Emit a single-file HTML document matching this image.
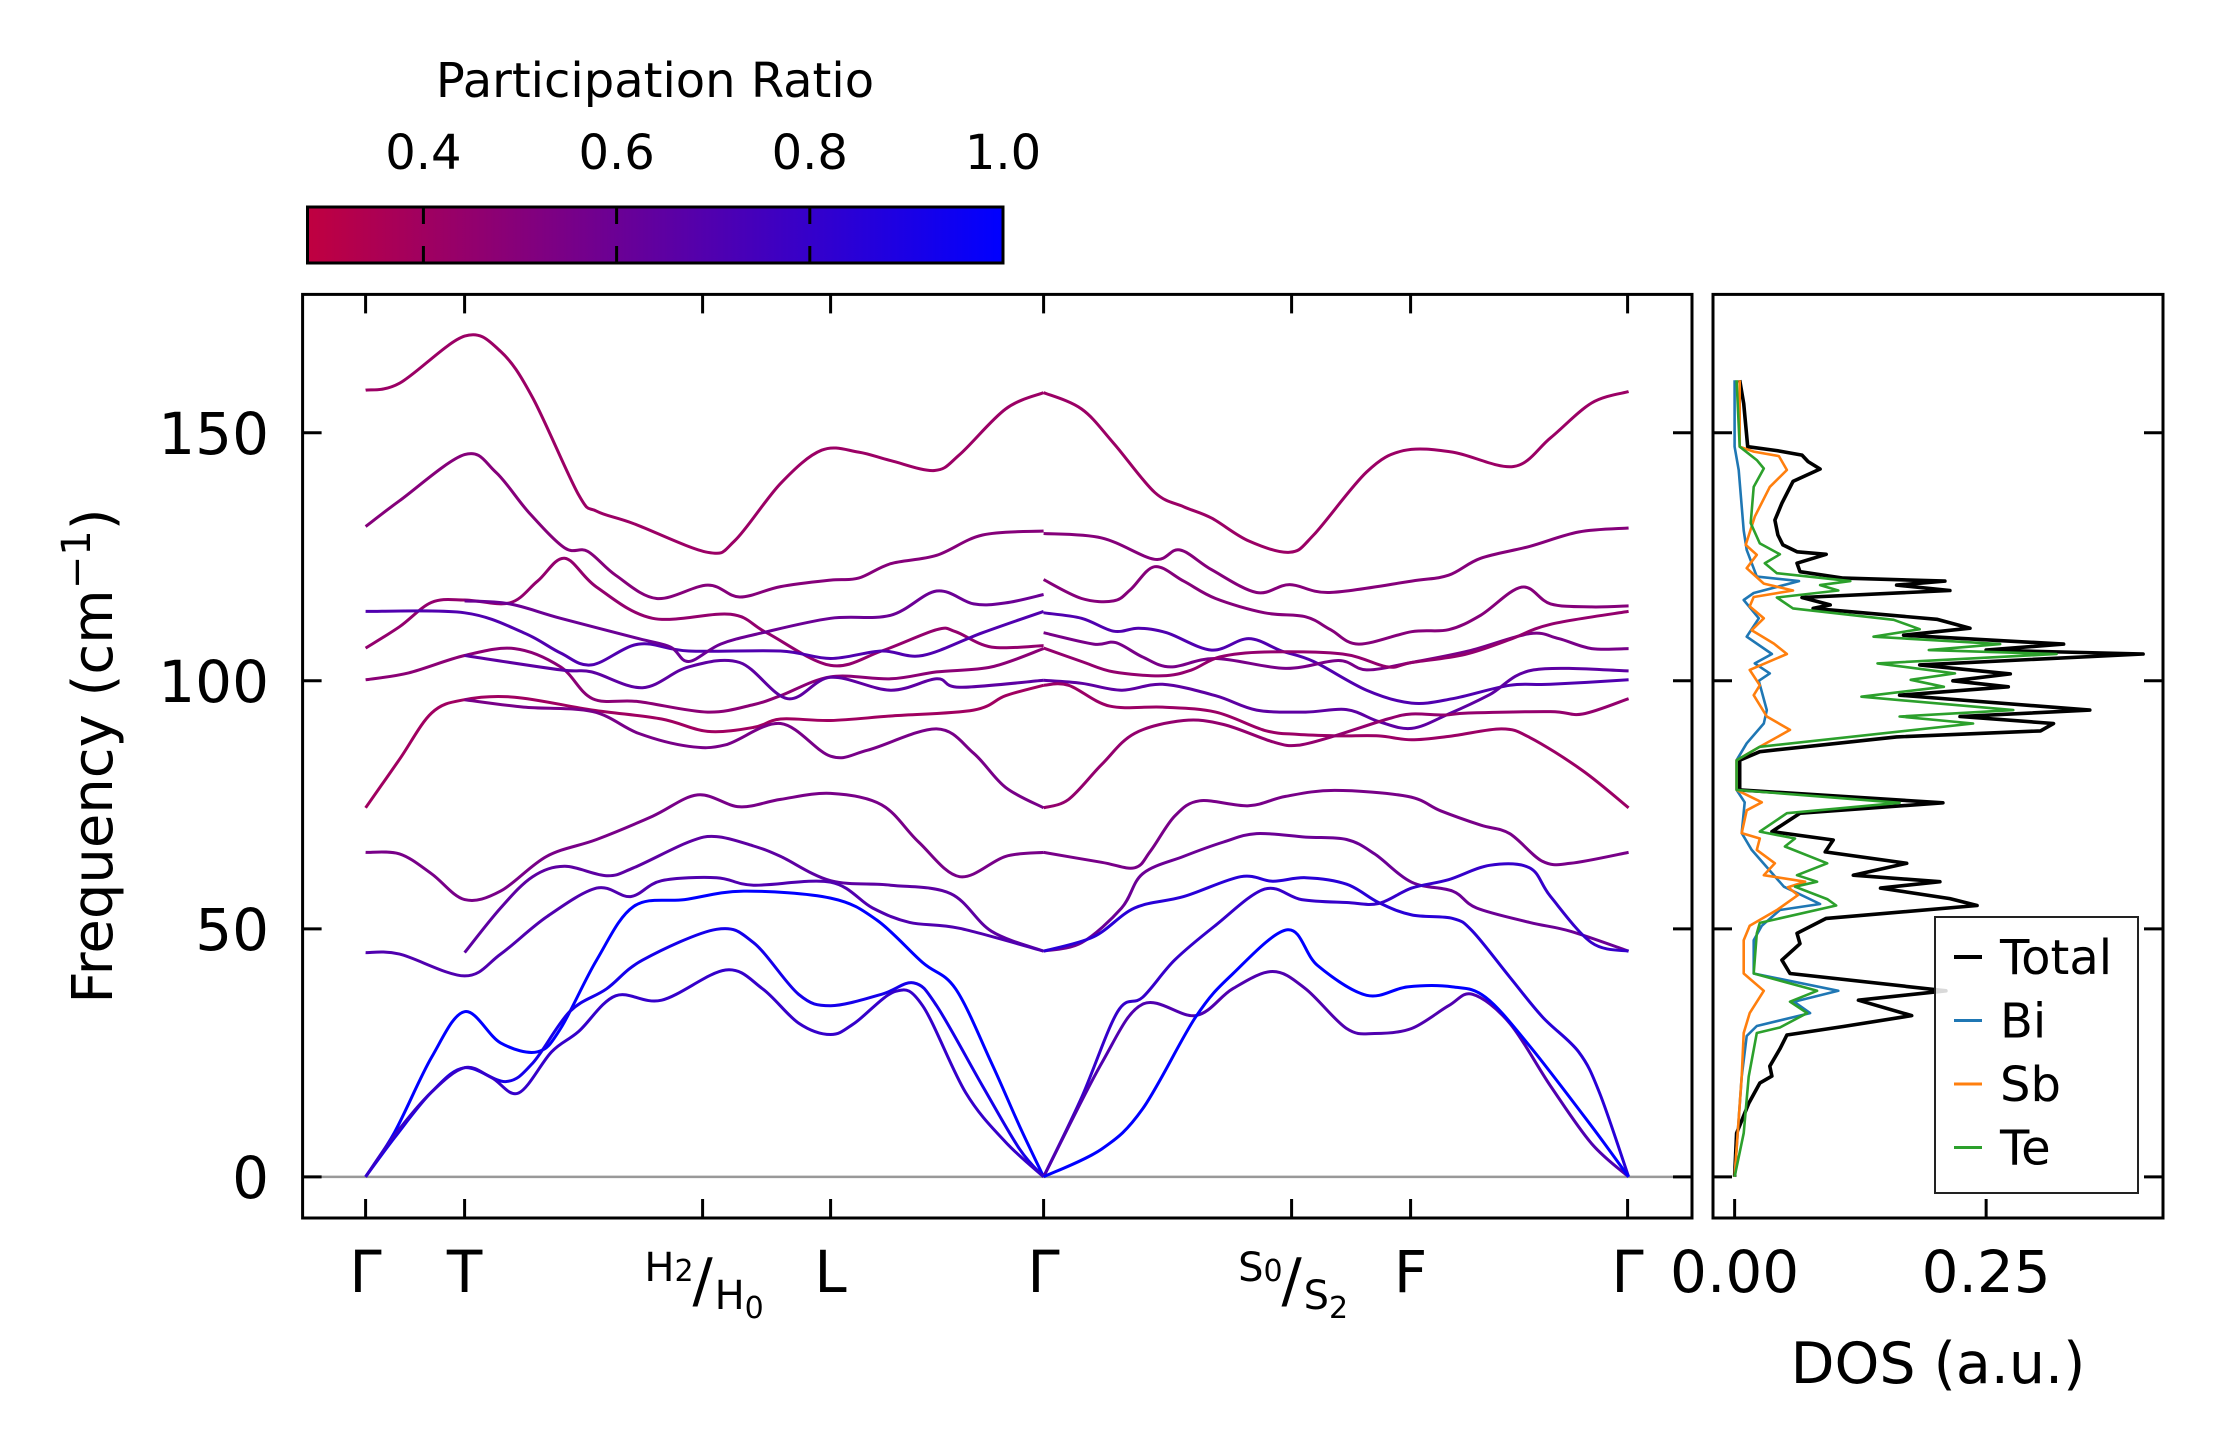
<!DOCTYPE html>
<html><head><meta charset="utf-8"><style>
html,body{margin:0;padding:0;background:#fff;}
svg{display:block;font-family:"DejaVu Sans","Liberation Sans",sans-serif;}
</style></head><body>
<svg id="chart" width="2222" height="1455" viewBox="0 0 2222 1455" xmlns="http://www.w3.org/2000/svg">
<defs><linearGradient id="cmap" x1="0" x2="1" y1="0" y2="0"><stop offset="0" stop-color="rgb(192,0,64)"/><stop offset="1" stop-color="rgb(0,0,255)"/></linearGradient></defs>
<g id="colorbar">
<text x="655" y="97" font-size="48" text-anchor="middle">Participation Ratio</text>
<rect x="307.5" y="207" width="695.5" height="56" fill="url(#cmap)" stroke="#000" stroke-width="3"/>
</g>
<g id="bands"></g>
<g id="dos"></g>
<g id="axes"></g>
</svg>
<script>
// ---------- data ----------
const kTicks=[0,99,337,465,678,926,1045,1262];
const kTickLabels=["Γ","T","H","L","Γ","S","F","Γ"];
const yTicks=[0,50,100,150];
const cbTicks=[0.4,0.6,0.8,1.0];
const dosTicks=[0,0.25];
const dosTickLabels=["0.00","0.25"];
const bandPR=[0.42,0.42,0.5,0.5,0.45,0.7,0.6,0.48,0.65,0.4,0.55,0.55,0.65,0.7,1.0,0.92,0.8,
 0.5,0.7,0.55,0.45,0.65,0.42,0.45,0.55,0.6,0.85,0.8,0.7,1.0];
const bandPoints=[
[[0,158.6],[34,160],[99,169.5],[135,166.4],[167,157.1],[213,137.5],[231,134.2],[268,131.7],[342,125.9],[369,128.2],[415,139.8],[456,146.5],[493,146.1],[525,144.4],[569,142.4],[594,145.6],[640,154.8],[678,158.1]],
[[678,158.1],[716,154.8],[748,147.9],[789,138],[818,135.1],[846,132.8],[883,128.2],[924,125.9],[948,129.4],[1001,142.1],[1038,146.4],[1087,146.1],[1148,143.2],[1185,149],[1226,156],[1263,158.3]],
[[0,131.1],[34,136.3],[99,145.6],[130,142.1],[163,134],[199,126.8],[222,126.1],[250,121.3],[291,116.6],[342,119.3],[374,116.9],[415,119],[465,120.3],[493,120.7],[525,123.6],[571,125.3],[617,129.4],[678,130.2]],
[[678,129.7],[736,128.8],[789,124.5],[814,126.4],[846,122.4],[891,117.8],[924,119.4],[964,117.8],[1046,120.1],[1083,121.3],[1115,124.7],[1164,127.1],[1213,130],[1263,130.8]],
[[0,106.6],[34,110.9],[66,115.8],[99,116.3],[144,115.7],[172,120.1],[199,124.7],[231,118.9],[287,112.6],[365,113.4],[401,109.7],[465,103.1],[516,106],[571,110.3],[590,109.9],[626,106.8],[678,107.1]],
[[0,114],[99,113.7],[158,109.7],[195,105.6],[226,103.2],[273,107.4],[323,106],[415,106],[465,104.5],[516,106],[557,105.1],[617,109.7],[678,114]],
[[99,116.1],[144,115.5],[195,112.6],[273,108.5],[305,106.8],[323,103.9],[355,107.4],[397,109.7],[465,112.6],[525,113.2],[571,118.1],[608,115.5],[640,115.7],[678,117.4]],
[[0,100.2],[43,101.6],[99,105.1],[149,106.5],[195,102.8],[227,96.4],[273,95.8],[342,93.7],[388,95.2],[415,97],[465,100.8],[525,100.4],[571,101.8],[626,102.8],[678,106.5]],
[[99,105.1],[195,102.2],[226,101.8],[277,98.6],[323,102.8],[374,103.7],[422,96.4],[465,100.7],[525,98.1],[571,100.4],[594,98.7],[678,100.1]],
[[0,74.4],[34,84.2],[66,93.5],[99,96.2],[149,96.7],[227,94.1],[296,92.3],[342,89.8],[388,90.6],[415,92.3],[465,92],[525,92.9],[608,94.1],[640,97],[678,99.1]],
[[99,96.2],[158,94.7],[227,93.8],[273,89.4],[323,86.8],[360,87.1],[415,91.4],[465,84.8],[502,86],[571,90.3],[608,85.4],[640,78.5],[678,74.4]],
[[0,65.4],[34,65.1],[66,61.1],[99,55.9],[135,57.6],[181,64.6],[231,68],[287,72.7],[332,77],[374,74.6],[415,76.1],[465,77.3],[516,75],[553,67.5],[594,60.5],[640,64.6],[678,65.4]],
[[99,45.2],[135,54.2],[167,60.5],[199,62.6],[241,60.7],[268,62.3],[323,67.5],[351,68.6],[388,66.7],[415,64.6],[465,59.7],[525,58.8],[585,57.1],[626,49.5],[678,45.5]],
[[0,45.2],[34,44.9],[99,40.5],[135,44.9],[181,52.4],[231,58.2],[265,56.5],[296,59.7],[351,60.3],[388,58.8],[465,59.4],[507,54.2],[544,51.3],[594,50.1],[678,45.5]],
[[0,0],[29,9],[66,24.1],[99,33.3],[135,27],[172,25.2],[195,29.9],[231,43.7],[268,54.5],[319,55.9],[378,57.6],[465,56.2],[511,51.8],[557,43.2],[590,37.9],[626,22.9],[654,10.2],[678,0]],
[[0,0],[29,7.9],[66,17.1],[99,22],[140,19.2],[167,22.9],[204,33.3],[241,37.9],[277,43.7],[351,49.9],[388,47.2],[433,36.8],[465,34.5],[516,36.8],[548,39.1],[571,34.5],[617,18.3],[654,5.6],[678,0]],
[[0,0],[29,8.4],[66,17.1],[99,22],[126,20],[153,16.9],[186,25.2],[213,29.3],[250,36.5],[296,35.6],[360,41.7],[397,37.9],[433,31],[465,28.7],[489,31],[530,37.4],[557,34.5],[600,17],[640,7],[678,0]],
[[678,120.4],[716,116.6],[748,116.1],[765,118.4],[789,123],[818,120.1],[850,116.6],[899,113.7],[940,112.9],[965,110.3],[993,107.4],[1046,109.9],[1083,110.3],[1115,113.2],[1156,118.9],[1185,115.5],[1226,114.9],[1263,115.1]],
[[678,113.7],[716,112.6],[748,110],[773,110.6],[801,109.7],[846,106.2],[883,108.5],[916,106],[948,103.9],[1001,98.1],[1046,95.5],[1087,96.4],[1144,99.1],[1185,99.3],[1263,100.2]],
[[678,109.7],[728,107.4],[750,107.7],[777,104.8],[805,102.8],[850,104.5],[920,102.5],[973,104.1],[1001,102.2],[1046,103.7],[1103,106],[1164,109.5],[1193,108.5],[1226,106.5],[1263,106.5]],
[[678,106.6],[716,103.9],[748,101.8],[797,101],[826,102.2],[854,104.8],[899,105.8],[977,105.4],[1022,102.8],[1046,103.7],[1099,105.3],[1144,108.3],[1185,111.4],[1263,114]],
[[678,100.1],[716,99.5],[756,98.1],[797,99.3],[850,97],[891,94.1],[940,93.7],[981,94.2],[1013,91.8],[1046,90.4],[1083,93.3],[1124,97.2],[1168,102.2],[1263,102]],
[[678,99.1],[703,99.1],[744,94.9],[797,94.7],[850,93.7],[899,90],[932,89.2],[973,88.9],[1013,88.9],[1046,88.1],[1087,88.9],[1136,90.3],[1164,88.6],[1217,81.9],[1263,74.4]],
[[678,74.4],[703,76.1],[736,83.1],[769,89.4],[818,92],[858,91.2],[907,87.7],[932,87],[969,88.9],[1022,92.3],[1046,93.3],[1079,93.1],[1103,93.5],[1185,93.8],[1217,93.3],[1263,96.4]],
[[678,65.4],[736,63.4],[769,62.3],[785,65.7],[809,72.7],[834,75.8],[883,74.8],[920,76.7],[969,77.9],[1042,76.7],[1075,73.8],[1115,70.9],[1144,69.2],[1177,63.6],[1205,63.2],[1263,65.4]],
[[678,45.5],[716,47.2],[756,54.2],[777,61.1],[818,64.6],[858,67.5],[891,69.2],[940,68.5],[981,68],[1009,65.1],[1046,59.4],[1087,57.6],[1111,54.2],[1164,51.3],[1205,49.5],[1263,45.5]],
[[678,45.5],[728,48.4],[769,54.2],[818,56.5],[875,60.5],[907,59.6],[940,60.3],[981,59],[1013,55.3],[1046,52.8],[1087,52.1],[1107,49.5],[1144,40.3],[1177,32.2],[1213,25.2],[1234,16.9],[1263,0]],
[[678,0],[716,16],[752,33.3],[777,36.2],[809,43.7],[850,50.7],[899,58],[936,55.9],[981,55.3],[1013,55.1],[1046,58.2],[1083,59.9],[1124,62.8],[1164,62.3],[1185,56.5],[1226,47.2],[1263,45.5]],
[[678,0],[736,22.9],[777,34.8],[830,32.5],[867,37.9],[907,41.4],[940,37.9],[981,29.9],[1009,28.9],[1046,29.9],[1083,34.5],[1107,36.8],[1144,31],[1185,18.3],[1226,6.7],[1263,0]],
[[678,0],[736,5.6],[777,13.7],[830,32.2],[867,40.9],[922,49.8],[952,42.6],[1001,36.6],[1042,38.3],[1087,38.3],[1120,36.2],[1164,26.4],[1226,10.2],[1263,0]]
];
const dosTotal=[[0,0],[8.8,0.002],[14.8,0.014],[18.9,0.025],[20.3,0.037],[22.3,0.035],[25.8,0.045],[28.6,0.052],[30.3,0.108],[32.5,0.176],[35.6,0.123],[37.5,0.21],[41.0,0.055],[43.7,0.047],[47.0,0.065],[49.1,0.062],[52.1,0.091],[54.7,0.241],[56.1,0.214],[58.2,0.145],[59.5,0.204],[60.8,0.118],[63.2,0.171],[65.5,0.090],[67.9,0.098],[69.6,0.037],[73.3,0.065],[75.4,0.207],[78.0,0.005],[84.0,0.005],[85.7,0.025],[88.7,0.161],[89.9,0.304],[91.4,0.317],[92.8,0.224],[94.1,0.353],[97.1,0.164],[98.8,0.272],[100.0,0.217],[101.4,0.274],[103.2,0.184],[105.4,0.406],[106.2,0.250],[107.4,0.327],[109.2,0.168],[110.6,0.234],[112.4,0.201],[114.6,0.078],[115.3,0.095],[116.8,0.067],[118.2,0.214],[119.3,0.161],[120.1,0.209],[120.7,0.108],[122.0,0.065],[123.7,0.062],[125.5,0.091],[126.0,0.062],[127.4,0.048],[129.4,0.043],[132.4,0.040],[135.8,0.047],[140.2,0.058],[142.7,0.085],[144.2,0.073],[145.5,0.067],[146.4,0.042],[147.2,0.013],[155.9,0.009],[160.6,0.005]];
const dosBi=[[0,0],[20.2,0.007],[28.4,0.012],[30.4,0.022],[33.0,0.075],[35.3,0.059],[37.5,0.103],[41.0,0.019],[47.7,0.019],[50.6,0.027],[53.8,0.045],[55.0,0.085],[58.5,0.049],[65.9,0.017],[69.3,0.007],[75.5,0.01],[78,0.002],[84,0.002],[87.4,0.012],[91.4,0.029],[94.1,0.032],[100.0,0.024],[101.5,0.035],[103.5,0.020],[105.4,0.037],[108.9,0.012],[112.6,0.024],[116.3,0.009],[117.7,0.019],[120.1,0.064],[121.0,0.022],[126.4,0.012],[130.3,0.009],[142.5,0.004],[147.2,0],[160.6,0]];
const dosSb=[[0,0],[20.2,0.007],[29.0,0.009],[33.0,0.015],[37.5,0.029],[41.0,0.009],[47.7,0.009],[50.6,0.015],[53.8,0.042],[56.8,0.063],[58.4,0.053],[59.5,0.070],[60.8,0.029],[63.2,0.040],[65.9,0.022],[68.2,0.025],[69.3,0.007],[73.9,0.012],[75.5,0.027],[78,0.002],[84,0.002],[86.7,0.025],[90.1,0.055],[92.8,0.032],[97.1,0.019],[99.1,0.025],[102.2,0.015],[105.4,0.052],[107.5,0.039],[110.2,0.017],[112.6,0.029],[115.0,0.015],[116.9,0.019],[118.2,0.058],[119.6,0.029],[122.7,0.012],[125.4,0.022],[127.4,0.011],[133.1,0.020],[139.1,0.035],[142.5,0.052],[145.3,0.044],[146.2,0.019],[147.2,0.005],[160.6,0.005]];
const dosTe=[[0,0],[8.8,0.009],[20.2,0.014],[29.0,0.022],[30.1,0.045],[33.0,0.072],[35.3,0.055],[37.5,0.082],[41.0,0.019],[49.1,0.022],[51.2,0.025],[54.7,0.101],[56.0,0.092],[58.5,0.060],[59.5,0.082],[60.8,0.062],[63.2,0.092],[66.6,0.050],[68.2,0.060],[69.6,0.025],[73.3,0.052],[75.4,0.164],[78,0.002],[84,0.002],[86.7,0.025],[91.4,0.237],[92.8,0.164],[94.1,0.277],[96.8,0.126],[98.8,0.208],[100.2,0.175],[101.5,0.219],[103.5,0.142],[105.4,0.320],[106.2,0.193],[107.4,0.264],[108.9,0.138],[110.4,0.184],[112.3,0.158],[114.6,0.058],[116.8,0.042],[118.2,0.103],[119.3,0.085],[120.1,0.115],[121.7,0.042],[123.7,0.030],[125.5,0.045],[127.7,0.025],[131.8,0.016],[139.1,0.019],[142.8,0.029],[144.5,0.022],[147.2,0.005],[160.6,0.002]];
const legendLabels=["Total","Bi","Sb","Te"];
const legendColors=["#000000","#1f77b4","#ff7f0e","#2ca02c"];

// ---------- scales ----------
const NS="http://www.w3.org/2000/svg";
const MX={x0:302.6,x1:1692,d0:-63,d1:1326.4};
const MY={y0:1218,y1:294.4,d0:-8.3,d1:177.9};
const DX={x0:1713,x1:2163,d0:-0.0215,d1:0.4258};
const CB={x0:307.5,x1:1003,d0:0.28,d1:1.0};
function xk(k){return MX.x0+(k-MX.d0)/(MX.d1-MX.d0)*(MX.x1-MX.x0);}
function yf(f){return MY.y0+(f-MY.d0)/(MY.d1-MY.d0)*(MY.y1-MY.y0);}
function xd(d){return DX.x0+(d-DX.d0)/(DX.d1-DX.d0)*(DX.x1-DX.x0);}
function xc(v){return CB.x0+(v-CB.d0)/(CB.d1-CB.d0)*(CB.x1-CB.x0);}
function prColor(v){const t=Math.max(0,Math.min(1,(v-CB.d0)/(CB.d1-CB.d0)));return `rgb(${Math.round(192*(1-t))},0,${Math.round(64+191*t)})`;}
function mk(tag,attrs,parent){const e=document.createElementNS(NS,tag);for(const a in attrs)e.setAttribute(a,attrs[a]);parent.appendChild(e);return e;}
function smooth(p){let d=`M${p[0][0].toFixed(1)},${p[0][1].toFixed(1)}`;for(let i=0;i<p.length-1;i++){const p0=p[i-1]||p[i],p1=p[i],p2=p[i+1],p3=p[i+2]||p2;const c1x=p1[0]+(p2[0]-p0[0])/6,c1y=p1[1]+(p2[1]-p0[1])/6,c2x=p2[0]-(p3[0]-p1[0])/6,c2y=p2[1]-(p3[1]-p1[1])/6;d+=`C${c1x.toFixed(1)},${c1y.toFixed(1)} ${c2x.toFixed(1)},${c2y.toFixed(1)} ${p2[0].toFixed(1)},${p2[1].toFixed(1)}`;}return d;}

const svg=document.getElementById('chart');
const gB=document.getElementById('bands'),gD=document.getElementById('dos'),gA=document.getElementById('axes'),gC=document.getElementById('colorbar');

// colorbar ticks
cbTicks.forEach((v,i)=>{
  if(v<1.0){
    const t1=mk('line',{x1:xc(v),x2:xc(v),y1:208,y2:224,stroke:'#000','stroke-width':3},gC);
    
    
    const t2=mk('line',{x1:xc(v),x2:xc(v),y1:246,y2:262,stroke:'#000','stroke-width':3},gC);
    
    
  }
  const tl=mk('text',{x:xc(v),y:169,'font-size':48,'text-anchor':'middle'},gC);
  
  
  tl.textContent=v.toFixed(1);
});

// zero line
const zl=mk('line',{x1:MX.x0,x2:MX.x1,y1:yf(0),y2:yf(0),stroke:'#999','stroke-width':2.5},gB);



// bands
bandPoints.forEach((pts,i)=>{
  const p=pts.map(q=>[xk(q[0]),yf(q[1])]);
  const path=mk('path',{d:smooth(p),fill:'none',stroke:prColor(bandPR[i]),'stroke-width':3,'stroke-linecap':'butt'},gB);
  
  
});

// DOS
[[dosTotal,'#000',3.6,'dos-total'],[dosBi,'#1f77b4',2.6,'dos-bi'],[dosSb,'#ff7f0e',2.6,'dos-sb'],[dosTe,'#2ca02c',2.6,'dos-te']].forEach(s=>{
  const pts=s[0].map(q=>xd(q[1]).toFixed(1)+','+yf(q[0]).toFixed(1)).join(' ');
  const pl=mk('polyline',{points:pts,fill:'none',stroke:s[1],'stroke-width':s[2],'stroke-linejoin':'round'},gD);
  
  
});

// frames
const f1=mk('rect',{x:MX.x0,y:MY.y1,width:MX.x1-MX.x0,height:MY.y0-MY.y1,fill:'none',stroke:'#000','stroke-width':3},gA);


const f2=mk('rect',{x:DX.x0,y:MY.y1,width:DX.x1-DX.x0,height:MY.y0-MY.y1,fill:'none',stroke:'#000','stroke-width':3},gA);



// k ticks
kTicks.forEach((k,i)=>{
  const x=xk(k);
  const a=mk('line',{x1:x,x2:x,y1:MY.y1,y2:MY.y1+19,stroke:'#000','stroke-width':3},gA);
  
  
  const b=mk('line',{x1:x,x2:x,y1:MY.y0,y2:MY.y0-19,stroke:'#000','stroke-width':3},gA);
  
  
  const lab=kTickLabels[i];
  if(lab==='H'||lab==='S'){
    const top=lab==='H'?'2':'0',bot=lab==='H'?'0':'2';
    const g=mk('g',{},gA);
    
    
    const t1=mk('text',{x:x-9,y:1281,'font-size':40,'text-anchor':'end'},g);
    t1.innerHTML=lab+'<tspan font-size="30">'+top+'</tspan>';
    const t2=mk('text',{x:x,y:1301,'font-size':60,'text-anchor':'middle'},g);
    t2.textContent='/';
    const t3=mk('text',{x:x+12,y:1309,'font-size':40,'text-anchor':'start'},g);
    t3.innerHTML=lab+'<tspan font-size="30" dy="9">'+bot+'</tspan>';
  } else {
    const t=mk('text',{x:x,y:1292,'font-size':58,'text-anchor':'middle'},gA);
    
    
    t.textContent=lab;
  }
});

// y ticks
yTicks.forEach(v=>{
  const y=yf(v);
  [[MX.x0,MX.x0+19],[MX.x1,MX.x1-19],[DX.x0,DX.x0+19],[DX.x1,DX.x1-19]].forEach(s=>{
    const l=mk('line',{x1:s[0],x2:s[1],y1:y,y2:y,stroke:'#000','stroke-width':3},gA);
    
    
  });
  const t=mk('text',{x:269,y:y+21,'font-size':58,'text-anchor':'end'},gA);
  
  
  t.textContent=String(v);
});

// dos x ticks
dosTicks.forEach((v,i)=>{
  const x=xd(v);
  const l=mk('line',{x1:x,x2:x,y1:MY.y0,y2:MY.y0-19,stroke:'#000','stroke-width':3},gA);
  
  
  const t=mk('text',{x:x,y:1292,'font-size':58,'text-anchor':'middle'},gA);
  
  
  t.textContent=dosTickLabels[i];
});

// axis labels
const yl=mk('text',{x:0,y:0,'font-size':56,'text-anchor':'middle',transform:'translate(112,756) rotate(-90)'},gA);


yl.innerHTML='Frequency (cm<tspan font-size="40" dy="-22">−1</tspan><tspan dy="22">)</tspan>';
const xl=mk('text',{x:1938,y:1383,'font-size':57,'text-anchor':'middle'},gA);


xl.textContent='DOS (a.u.)';

// legend
const lg=mk('g',{},gA);


mk('rect',{x:1935,y:917,width:203,height:276,fill:'#fff','fill-opacity':0.85,stroke:'#222','stroke-width':2},lg);
legendLabels.forEach((lab,i)=>{
  const cy=957+i*63.5;
  const e=mk('g',{},lg);
  
  
  mk('line',{x1:1954,x2:1982,y1:cy,y2:cy,stroke:legendColors[i],'stroke-width':i===0?4:3},e);
  const t=mk('text',{x:2000,y:cy+17,'font-size':48},e);
  t.textContent=lab;
});
</script>
</body></html>
